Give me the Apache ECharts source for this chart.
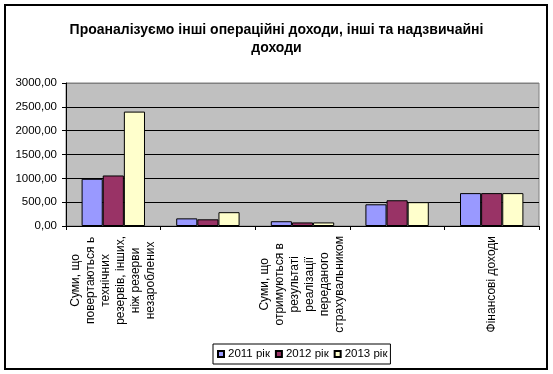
<!DOCTYPE html>
<html>
<head>
<meta charset="utf-8">
<script src="https://cdn.jsdelivr.net/npm/echarts@6/dist/echarts.min.js"></script>
<style>
html,body{margin:0;padding:0;background:#fff;}
#chart{width:553px;height:374px;}
</style>
</head>
<body>
<div id="chart"></div>
<script>
const titleText = 'Проаналізуємо інші операційні доходи, інші та надзвичайні\nдоходи';
const categories = [
  'Суми, що\nповертаються ь\nтехнічних\nрезервів, інших,\nніж резерви\nнезароблених',
  '',
  'Суми, що\nотримуються в\nрезультаті\nреалізації\nпереданого\nстрахувальником',
  '',
  'Фінансові доходи'
];
const seriesNames = ['2011 рік', '2012 рік', '2013 рік'];
const values2011 = [990, 160, 100, 455, 690];
const values2012 = [1060, 140, 75, 540, 690];
const values2013 = [2400, 290, 75, 500, 690];
const yTicks = [0, 500, 1000, 1500, 2000, 2500, 3000];
const colors = ['#9999FF', '#993366', '#FFFFCC'];

const FONT = '"Liberation Sans", Arial, sans-serif';
const chart = echarts.init(document.getElementById('chart'), null, {renderer: 'canvas'});
const allValues = [values2011, values2012, values2013];

chart.setOption({
  animation: false,
  backgroundColor: '#fff',
  textStyle: {fontFamily: FONT},
  title: {
    text: titleText,
    left: 'center',
    top: 16,
    textStyle: {fontFamily: FONT, fontSize: 14, fontWeight: 'bold', color: '#000', lineHeight: 18}
  },
  graphic: [{
    type: 'rect',
    shape: {x: 5, y: 5, width: 542, height: 364},
    style: {fill: 'none', stroke: '#000', lineWidth: 2},
    silent: true,
    z: 100
  }],
  legend: {
    data: seriesNames,
    left: 213,
    top: 344,
    orient: 'horizontal',
    itemWidth: 6,
    itemHeight: 6,
    itemGap: 5,
    icon: 'rect',
    padding: [4, 3, 4, 4],
    borderColor: '#000',
    borderWidth: 1,
    textStyle: {fontFamily: FONT, fontSize: 11.5, color: '#000', padding: [0, 0, 0, -1]}
  },
  grid: {
    left: 66, right: 14, top: 83, bottom: 148,
    show: true,
    backgroundColor: '#c0c0c0',
    borderColor: '#808080',
    borderWidth: 1
  },
  xAxis: {
    type: 'category',
    data: categories,
    axisLine: {lineStyle: {color: '#000', width: 1}},
    axisTick: {show: true, interval: 0, length: 4, lineStyle: {color: '#000'}},
    axisLabel: {
      interval: 0,
      rotate: 90,
      margin: 10,
      color: '#000',
      fontFamily: FONT,
      fontSize: 12,
      lineHeight: 15,
      formatter: function (v) {
        if (!v) return '';
        return v.split('\n').map(function (l) { return '{c|' + l + '}'; }).join('\n');
      },
      rich: {c: {align: 'center', fontFamily: FONT, fontSize: 12, lineHeight: 15, color: '#000'}}
    }
  },
  yAxis: {
    type: 'value',
    min: yTicks[0],
    max: yTicks[yTicks.length - 1],
    interval: yTicks[1] - yTicks[0],
    axisLine: {show: true, lineStyle: {color: '#000'}},
    axisTick: {show: true, length: 4, lineStyle: {color: '#000'}},
    axisLabel: {
      margin: 9,
      color: '#000',
      fontFamily: FONT,
      fontSize: 11.5,
      formatter: function (v) { return v.toFixed(2).replace('.', ','); }
    },
    splitLine: {show: true, lineStyle: {color: ['#000', '#000', '#000', '#000', '#000', '#000', '#808080'], width: 1}}
  },
  series: seriesNames.map(function (name, i) {
    return {
      name: name,
      type: 'bar',
      data: allValues[i],
      barGap: '0%',
      barCategoryGap: '33%',
      itemStyle: {color: colors[i], borderColor: '#000', borderWidth: 1}
    };
  })
});
</script>
</body>
</html>
